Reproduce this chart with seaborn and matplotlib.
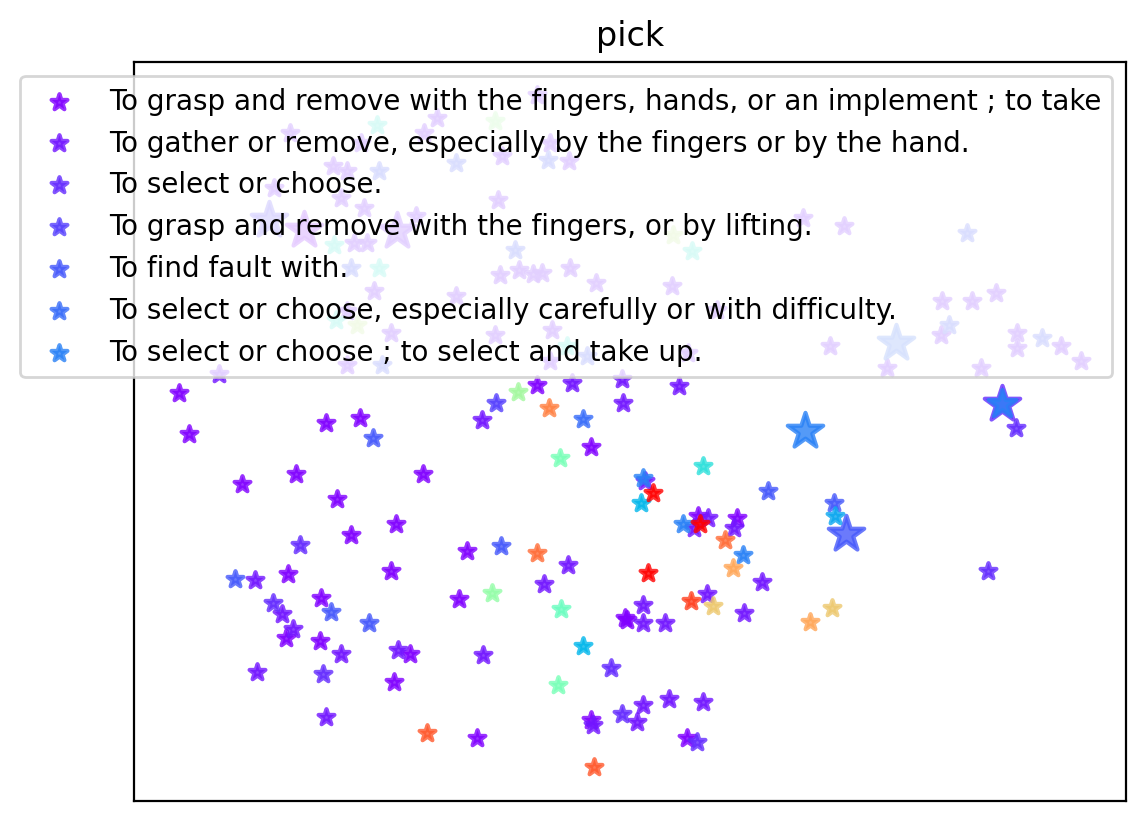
import numpy as np
import pandas as pd
import seaborn as sns
import matplotlib
matplotlib.use("Agg")
import matplotlib.pyplot as plt

word = "pick"
n_senses = 36

# definitions shown in the legend (first senses only)
definitions = [
    "To grasp and remove with the fingers, hands, or an implement ; to take",
    "To gather or remove, especially by the fingers or by the hand.",
    "To select or choose.",
    "To grasp and remove with the fingers, or by lifting.",
    "To find fault with.",
    "To select or choose, especially carefully or with difficulty.",
    "To select or choose ; to select and take up.",
]

# embedded usage examples (2d projection), with the sense each belongs to
ex_x = [45, 55, 85, 192, 226, 239, 108, 162, 289, 203, 262, 217, 166, 333, 101, 121,
        154, 257, 139, 187, 325, 148, 197, 235, 159, 152, 186, 207, 264, 276, 123, 189,
        260, 192, 293, 343,
        403, 438, 488, 545, 384, 362, 415, 489, 348, 449, 457, 426, 569, 511, 509, 519,
        507, 634, 549, 564, 574, 560, 566, 603, 600, 591, 609, 599, 628, 367, 403, 434,
        514, 410, 573, 358, 427, 491, 493, 509, 509, 531, 557, 579, 610, 676, 449, 349,
        477, 424, 535, 569, 509, 488, 503, 457, 459, 553, 563, 460,
        883, 701, 702, 855, 699,
        303, 243, 156, 290, 227, 322, 199, 213, 245, 140, 207, 230, 282, 200, 220, 233,
        217, 245, 240, 322, 213, 202, 223, 257, 213, 248, 403, 361, 368, 416, 414, 435,
        364, 381, 539, 558, 366, 385, 399, 408, 436, 462, 538, 669, 361, 418, 433, 416,
        453, 554, 583, 711, 834, 809, 839, 863, 816, 808, 696, 754, 848, 884, 884, 909,
        928, 948]
ex_y = [408, 367, 427, 378, 383, 363, 317, 327, 327, 302, 277, 266, 256, 250, 222, 221,
        227, 230, 198, 203, 202, 187, 189, 178, 172, 163, 160, 147, 151, 147, 129, 127,
        119, 83, 67, 62,
        416, 418, 422, 415, 409, 398, 393, 398, 381, 382, 354, 343, 335, 320, 323, 308,
        298, 310, 277, 285, 283, 273, 277, 283, 273, 261, 246, 233, 219, 255, 248, 236,
        228, 217, 207, 208, 192, 183, 181, 196, 178, 178, 200, 195, 188, 179, 155, 146,
        133, 116, 102, 98, 95, 86, 78, 80, 75, 62, 58, 33,
        373, 298, 285, 230, 193,
        683, 676, 668, 668, 658, 638, 635, 630, 630, 613, 603, 593, 585, 556, 558, 558,
        533, 533, 510, 505, 490, 481, 476, 468, 436, 436, 706, 680, 645, 658, 641, 640,
        601, 551, 566, 550, 526, 531, 527, 528, 533, 518, 515, 583, 466, 471, 455, 440,
        445, 448, 491, 575, 568, 500, 500, 508, 476, 466, 455, 433, 433, 468, 453, 463,
        455, 440]
ex_sense = [0, 0, 1, 0, 0, 4, 0, 0, 0, 0, 0, 0, 2, 0, 4, 1,
            0, 0, 2, 0, 0, 1, 4, 4, 1, 0, 0, 1, 1, 0, 1, 2,
            0, 1, 31, 0,
            0, 1, 1, 1, 20, 3, 29, 1, 1, 5, 0, 17, 12, 1, 6, 35,
            9, 4, 6, 0, 1, 1, 35, 0, 1, 30, 6, 27, 1, 4, 30, 1,
            35, 1, 1, 19, 16, 0, 0, 1, 1, 1, 32, 25, 1, 27, 9, 1,
            2, 17, 1, 1, 1, 2, 1, 0, 1, 0, 2, 31,
            2, 4, 8, 2, 25,
            1, 13, 1, 1, 1, 4, 1, 1, 4, 1, 1, 1, 1, 13, 1, 1,
            4, 13, 1, 1, 1, 13, 22, 1, 1, 4, 1, 20, 1, 1, 4, 1,
            1, 4, 22, 13, 1, 1, 1, 1, 1, 1, 1, 1, 1, 1, 13, 1,
            4, 1, 1, 1, 4, 1, 1, 1, 4, 1, 1, 1, 1, 1, 1, 4,
            1, 1]

# embedded definitions themselves
def_x = [170, 263, 869, 135, 713, 763, 671, 869]
def_y = [571, 570, 397, 581, 267, 458, 370, 397]
def_sense = [0, 1, 2, 3, 4, 5, 6, 6]

examples = pd.DataFrame({"x": ex_x, "y": ex_y, "sense": ex_sense})
defs = pd.DataFrame({"x": def_x, "y": def_y, "sense": def_sense})
colors = plt.cm.rainbow(np.linspace(0, 1, n_senses))

fig, ax = plt.subplots(figsize=(6.4, 4.8))
for k in range(n_senses):
    sub = examples[examples["sense"] == k]
    if len(sub):
        label = definitions[k] if k < len(definitions) else None
        sns.scatterplot(data=sub, x="x", y="y", marker="*", s=36, color=colors[k],
                        alpha=0.8, edgecolor="face", linewidth=1.5, label=label, ax=ax)
    dsub = defs[defs["sense"] == k]
    for j in range(len(dsub)):
        # second definition of a sense drawn a bit smaller
        sns.scatterplot(data=dsub.iloc[[j]], x="x", y="y", marker="*",
                        s=180 if j == 0 else 110, color=colors[k],
                        alpha=0.8, edgecolor="face", linewidth=1.5, ax=ax)

ax.set_xticks([])
ax.set_yticks([])
ax.set_xlabel("")
ax.set_ylabel("")
ax.set_title(word)
ax.legend(loc="upper right")
plt.savefig("out.png", dpi=200, bbox_inches="tight")
